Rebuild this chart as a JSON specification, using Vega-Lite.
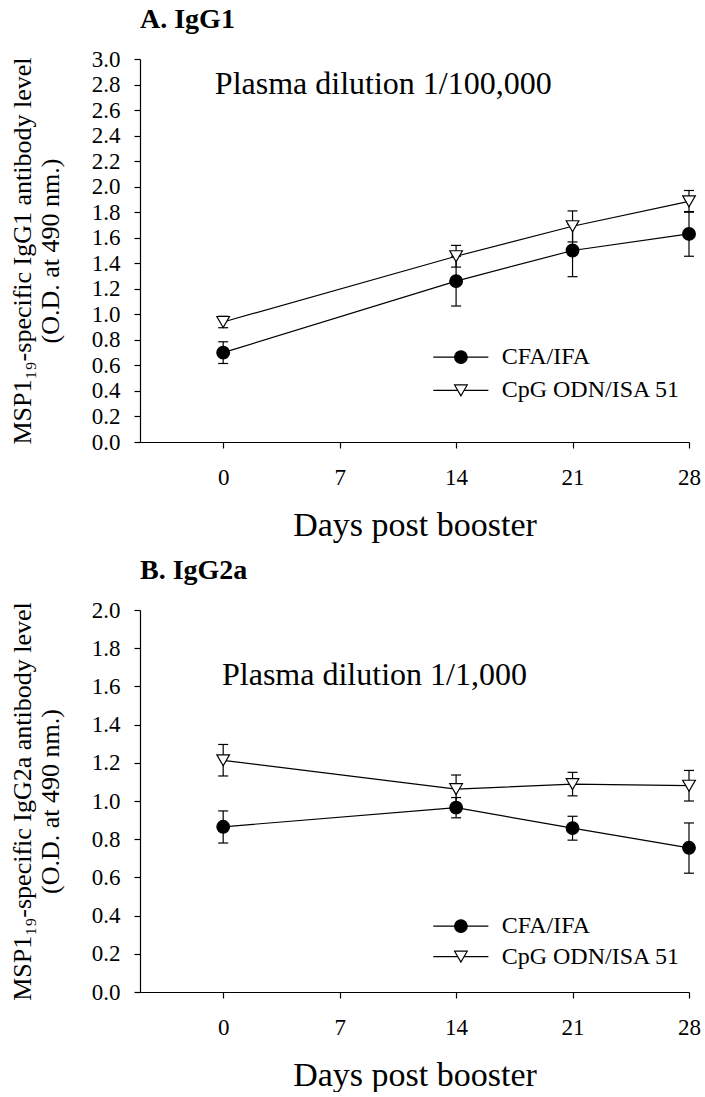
{
  "$schema": "https://vega.github.io/schema/vega-lite/v6.json",
  "background": "white",
  "padding": {"left": 9, "top": 6, "right": 5, "bottom": 0},
  "config": {
    "font": "Liberation Serif",
    "view": {"stroke": null},
    "axis": {
      "grid": false,
      "domainColor": "black",
      "domainWidth": 1.2,
      "tickColor": "black",
      "tickWidth": 1.2,
      "tickSize": 6,
      "labelColor": "black",
      "labelFont": "Liberation Serif",
      "labelFontSize": 23,
      "labelOverlap": false,
      "titleFont": "Liberation Serif",
      "titleColor": "black",
      "titleFontWeight": "normal"
    },
    "axisX": {"labelPadding": 18, "labelAngle": 0, "titleFontSize": 34, "titlePadding": 19},
    "axisY": {"labelPadding": 14, "titleFontSize": 26, "titleLineHeight": 28, "titlePadding": 28},
    "title": {
      "font": "Liberation Serif",
      "fontSize": 28,
      "fontWeight": "bold",
      "color": "black",
      "anchor": "start",
      "frame": "group",
      "baseline": "alphabetic",
      "offset": 14
    }
  },
  "datasets": {
    "od": [
      {"isotype": "IgG1", "series": "CFA/IFA", "day": 0, "mean": 0.70, "lo": 0.615, "hi": 0.785},
      {"isotype": "IgG1", "series": "CFA/IFA", "day": 14, "mean": 1.26, "lo": 1.065, "hi": 1.455},
      {"isotype": "IgG1", "series": "CFA/IFA", "day": 21, "mean": 1.50, "lo": 1.295, "hi": 1.705},
      {"isotype": "IgG1", "series": "CFA/IFA", "day": 28, "mean": 1.63, "lo": 1.455, "hi": 1.805},
      {"isotype": "IgG1", "series": "CpG ODN/ISA 51", "day": 0, "mean": 0.94, "lo": 0.895, "hi": 0.985},
      {"isotype": "IgG1", "series": "CpG ODN/ISA 51", "day": 14, "mean": 1.455, "lo": 1.37, "hi": 1.54},
      {"isotype": "IgG1", "series": "CpG ODN/ISA 51", "day": 21, "mean": 1.69, "lo": 1.567, "hi": 1.81},
      {"isotype": "IgG1", "series": "CpG ODN/ISA 51", "day": 28, "mean": 1.885, "lo": 1.80, "hi": 1.97},
      {"isotype": "IgG2a", "series": "CFA/IFA", "day": 0, "mean": 0.865, "lo": 0.78, "hi": 0.948},
      {"isotype": "IgG2a", "series": "CFA/IFA", "day": 14, "mean": 0.965, "lo": 0.912, "hi": 1.018},
      {"isotype": "IgG2a", "series": "CFA/IFA", "day": 21, "mean": 0.858, "lo": 0.795, "hi": 0.92},
      {"isotype": "IgG2a", "series": "CFA/IFA", "day": 28, "mean": 0.755, "lo": 0.622, "hi": 0.885},
      {"isotype": "IgG2a", "series": "CpG ODN/ISA 51", "day": 0, "mean": 1.213, "lo": 1.131, "hi": 1.296},
      {"isotype": "IgG2a", "series": "CpG ODN/ISA 51", "day": 14, "mean": 1.062, "lo": 0.988, "hi": 1.136},
      {"isotype": "IgG2a", "series": "CpG ODN/ISA 51", "day": 21, "mean": 1.088, "lo": 1.027, "hi": 1.15},
      {"isotype": "IgG2a", "series": "CpG ODN/ISA 51", "day": 28, "mean": 1.08, "lo": 1.0, "hi": 1.16}
    ]
  },
  "spacing": 15,
  "vconcat": [
    {
      "title": "A. IgG1",
      "width": 549,
      "height": 383,
      "layer": [
        {
          "data": {"name": "od"},
          "transform": [{"filter": "datum.isotype === 'IgG1'"}],
          "encoding": {
            "x": {"field": "day", "type": "quantitative", "scale": {"domain": [-5, 28], "nice": false, "zero": false},
                  "axis": {"values": [0, 7, 14, 21, 28], "labelOverlap": false, "labelFlush": false, "title": "Days post booster"}},
            "y": {"field": "mean", "type": "quantitative", "scale": {"domain": [0, 3], "nice": false},
                  "axis": {"values": [0, 0.2, 0.4, 0.6, 0.8, 1.0, 1.2, 1.4, 1.6, 1.8, 2.0, 2.2, 2.4, 2.6, 2.8, 3.0], "format": ".1f", "labelOverlap": false, "labelFlush": false, "title": ["MSP1₁₉-specific IgG1 antibody level", "(O.D. at 490 nm.)"]}}
          },
          "layer": [
            {"mark": {"type": "line", "color": "black", "strokeWidth": 1.2}, "encoding": {"detail": {"field": "series"}}},
            {"mark": {"type": "rule", "color": "black", "strokeWidth": 1.2},
             "encoding": {"y": {"field": "lo", "type": "quantitative", "axis": {"values": [0, 0.2, 0.4, 0.6, 0.8, 1.0, 1.2, 1.4, 1.6, 1.8, 2.0, 2.2, 2.4, 2.6, 2.8, 3.0], "format": ".1f", "labelOverlap": false, "labelFlush": false, "title": ["MSP1₁₉-specific IgG1 antibody level", "(O.D. at 490 nm.)"]}}, "y2": {"field": "hi"}}},
            {"mark": {"type": "tick", "orient": "horizontal", "color": "black", "opacity": 1, "thickness": 1.2, "size": 10},
             "encoding": {"y": {"field": "lo", "type": "quantitative", "axis": {"values": [0, 0.2, 0.4, 0.6, 0.8, 1.0, 1.2, 1.4, 1.6, 1.8, 2.0, 2.2, 2.4, 2.6, 2.8, 3.0], "format": ".1f", "labelOverlap": false, "labelFlush": false, "title": ["MSP1₁₉-specific IgG1 antibody level", "(O.D. at 490 nm.)"]}}}},
            {"mark": {"type": "tick", "orient": "horizontal", "color": "black", "opacity": 1, "thickness": 1.2, "size": 10},
             "encoding": {"y": {"field": "hi", "type": "quantitative", "axis": {"values": [0, 0.2, 0.4, 0.6, 0.8, 1.0, 1.2, 1.4, 1.6, 1.8, 2.0, 2.2, 2.4, 2.6, 2.8, 3.0], "format": ".1f", "labelOverlap": false, "labelFlush": false, "title": ["MSP1₁₉-specific IgG1 antibody level", "(O.D. at 490 nm.)"]}}}},
            {
              "mark": {"type": "point", "filled": true, "opacity": 1, "size": 160, "stroke": "black", "strokeWidth": 1.2},
              "encoding": {
                "fill": {"condition": {"test": "datum.series === 'CFA/IFA'", "value": "black"}, "value": "white"},
                "shape": {"field": "series", "type": "nominal",
                          "scale": {"domain": ["CFA/IFA", "CpG ODN/ISA 51"], "range": ["circle", "triangle-down"]},
                          "legend": null}
              }
            }
          ]
        },
        {
          "data": {"values": [{"note": "Plasma dilution 1/100,000"}]},
          "mark": {"type": "text", "align": "left", "baseline": "alphabetic", "font": "Liberation Serif", "fontSize": 32, "color": "black"},
          "encoding": {
            "x": {"datum": -0.5, "type": "quantitative", "axis": {"values": [0, 7, 14, 21, 28], "labelOverlap": false, "labelFlush": false, "title": "Days post booster"}},
            "y": {"datum": 2.725, "type": "quantitative", "axis": {"values": [0, 0.2, 0.4, 0.6, 0.8, 1.0, 1.2, 1.4, 1.6, 1.8, 2.0, 2.2, 2.4, 2.6, 2.8, 3.0], "format": ".1f", "labelOverlap": false, "labelFlush": false, "title": ["MSP1₁₉-specific IgG1 antibody level", "(O.D. at 490 nm.)"]}},
            "text": {"field": "note"}
          }
        },
        {
          "data": {"values": [{"series": "CFA/IFA"}, {"series": "CpG ODN/ISA 51"}]},
          "encoding": {
            "y": {"datum": 0.665, "type": "quantitative", "axis": {"values": [0, 0.2, 0.4, 0.6, 0.8, 1.0, 1.2, 1.4, 1.6, 1.8, 2.0, 2.2, 2.4, 2.6, 2.8, 3.0], "format": ".1f", "labelOverlap": false, "labelFlush": false, "title": ["MSP1₁₉-specific IgG1 antibody level", "(O.D. at 490 nm.)"]}}
          },
          "transform": [{"filter": "datum.series === 'CFA/IFA'"}],
          "layer": [
            {"mark": {"type": "rule", "color": "black", "strokeWidth": 1.2},
             "encoding": {"x": {"datum": 12.63, "type": "quantitative", "axis": {"values": [0, 7, 14, 21, 28], "labelOverlap": false, "labelFlush": false, "title": "Days post booster"}}, "x2": {"datum": 15.94}}},
            {"mark": {"type": "point", "shape": "circle", "filled": true, "fill": "black", "stroke": "black", "strokeWidth": 1.2, "size": 160, "opacity": 1},
             "encoding": {"x": {"datum": 14.29, "type": "quantitative", "axis": {"values": [0, 7, 14, 21, 28], "labelOverlap": false, "labelFlush": false, "title": "Days post booster"}}}},
            {"mark": {"type": "text", "align": "left", "baseline": "middle", "font": "Liberation Serif", "fontSize": 24, "color": "black"},
             "encoding": {"x": {"datum": 16.74, "type": "quantitative", "axis": {"values": [0, 7, 14, 21, 28], "labelOverlap": false, "labelFlush": false, "title": "Days post booster"}}, "text": {"field": "series"}}}
          ]
        },
        {
          "data": {"values": [{"series": "CFA/IFA"}, {"series": "CpG ODN/ISA 51"}]},
          "encoding": {
            "y": {"datum": 0.404, "type": "quantitative", "axis": {"values": [0, 0.2, 0.4, 0.6, 0.8, 1.0, 1.2, 1.4, 1.6, 1.8, 2.0, 2.2, 2.4, 2.6, 2.8, 3.0], "format": ".1f", "labelOverlap": false, "labelFlush": false, "title": ["MSP1₁₉-specific IgG1 antibody level", "(O.D. at 490 nm.)"]}}
          },
          "transform": [{"filter": "datum.series === 'CpG ODN/ISA 51'"}],
          "layer": [
            {"mark": {"type": "rule", "color": "black", "strokeWidth": 1.2},
             "encoding": {"x": {"datum": 12.63, "type": "quantitative", "axis": {"values": [0, 7, 14, 21, 28], "labelOverlap": false, "labelFlush": false, "title": "Days post booster"}}, "x2": {"datum": 15.94}}},
            {"mark": {"type": "point", "shape": "triangle-down", "filled": true, "fill": "white", "stroke": "black", "strokeWidth": 1.2, "size": 160, "opacity": 1},
             "encoding": {"x": {"datum": 14.29, "type": "quantitative", "axis": {"values": [0, 7, 14, 21, 28], "labelOverlap": false, "labelFlush": false, "title": "Days post booster"}}}},
            {"mark": {"type": "text", "align": "left", "baseline": "middle", "font": "Liberation Serif", "fontSize": 24, "color": "black"},
             "encoding": {"x": {"datum": 16.74, "type": "quantitative", "axis": {"values": [0, 7, 14, 21, 28], "labelOverlap": false, "labelFlush": false, "title": "Days post booster"}}, "text": {"field": "series"}}}
          ]
        }
      ]
    },
    {
      "title": "B. IgG2a",
      "width": 549,
      "height": 382,
      "layer": [
        {
          "data": {"name": "od"},
          "transform": [{"filter": "datum.isotype === 'IgG2a'"}],
          "encoding": {
            "x": {"field": "day", "type": "quantitative", "scale": {"domain": [-5, 28], "nice": false, "zero": false},
                  "axis": {"values": [0, 7, 14, 21, 28], "labelOverlap": false, "labelFlush": false, "title": "Days post booster"}},
            "y": {"field": "mean", "type": "quantitative", "scale": {"domain": [0, 2], "nice": false},
                  "axis": {"values": [0, 0.2, 0.4, 0.6, 0.8, 1.0, 1.2, 1.4, 1.6, 1.8, 2.0], "format": ".1f", "labelOverlap": false, "labelFlush": false, "title": ["MSP1₁₉-specific IgG2a antibody level", "(O.D. at 490 nm.)"]}}
          },
          "layer": [
            {"mark": {"type": "line", "color": "black", "strokeWidth": 1.2}, "encoding": {"detail": {"field": "series"}}},
            {"mark": {"type": "rule", "color": "black", "strokeWidth": 1.2},
             "encoding": {"y": {"field": "lo", "type": "quantitative", "axis": {"values": [0, 0.2, 0.4, 0.6, 0.8, 1.0, 1.2, 1.4, 1.6, 1.8, 2.0], "format": ".1f", "labelOverlap": false, "labelFlush": false, "title": ["MSP1₁₉-specific IgG2a antibody level", "(O.D. at 490 nm.)"]}}, "y2": {"field": "hi"}}},
            {"mark": {"type": "tick", "orient": "horizontal", "color": "black", "opacity": 1, "thickness": 1.2, "size": 10},
             "encoding": {"y": {"field": "lo", "type": "quantitative", "axis": {"values": [0, 0.2, 0.4, 0.6, 0.8, 1.0, 1.2, 1.4, 1.6, 1.8, 2.0], "format": ".1f", "labelOverlap": false, "labelFlush": false, "title": ["MSP1₁₉-specific IgG2a antibody level", "(O.D. at 490 nm.)"]}}}},
            {"mark": {"type": "tick", "orient": "horizontal", "color": "black", "opacity": 1, "thickness": 1.2, "size": 10},
             "encoding": {"y": {"field": "hi", "type": "quantitative", "axis": {"values": [0, 0.2, 0.4, 0.6, 0.8, 1.0, 1.2, 1.4, 1.6, 1.8, 2.0], "format": ".1f", "labelOverlap": false, "labelFlush": false, "title": ["MSP1₁₉-specific IgG2a antibody level", "(O.D. at 490 nm.)"]}}}},
            {
              "mark": {"type": "point", "filled": true, "opacity": 1, "size": 160, "stroke": "black", "strokeWidth": 1.2},
              "encoding": {
                "fill": {"condition": {"test": "datum.series === 'CFA/IFA'", "value": "black"}, "value": "white"},
                "shape": {"field": "series", "type": "nominal",
                          "scale": {"domain": ["CFA/IFA", "CpG ODN/ISA 51"], "range": ["circle", "triangle-down"]},
                          "legend": null}
              }
            }
          ]
        },
        {
          "data": {"values": [{"note": "Plasma dilution 1/1,000"}]},
          "mark": {"type": "text", "align": "left", "baseline": "alphabetic", "font": "Liberation Serif", "fontSize": 32, "color": "black"},
          "encoding": {
            "x": {"datum": -0.07, "type": "quantitative", "axis": {"values": [0, 7, 14, 21, 28], "labelOverlap": false, "labelFlush": false, "title": "Days post booster"}},
            "y": {"datum": 1.608, "type": "quantitative", "axis": {"values": [0, 0.2, 0.4, 0.6, 0.8, 1.0, 1.2, 1.4, 1.6, 1.8, 2.0], "format": ".1f", "labelOverlap": false, "labelFlush": false, "title": ["MSP1₁₉-specific IgG2a antibody level", "(O.D. at 490 nm.)"]}},
            "text": {"field": "note"}
          }
        },
        {
          "data": {"values": [{"series": "CFA/IFA"}, {"series": "CpG ODN/ISA 51"}]},
          "encoding": {
            "y": {"datum": 0.345, "type": "quantitative", "axis": {"values": [0, 0.2, 0.4, 0.6, 0.8, 1.0, 1.2, 1.4, 1.6, 1.8, 2.0], "format": ".1f", "labelOverlap": false, "labelFlush": false, "title": ["MSP1₁₉-specific IgG2a antibody level", "(O.D. at 490 nm.)"]}}
          },
          "transform": [{"filter": "datum.series === 'CFA/IFA'"}],
          "layer": [
            {"mark": {"type": "rule", "color": "black", "strokeWidth": 1.2},
             "encoding": {"x": {"datum": 12.63, "type": "quantitative", "axis": {"values": [0, 7, 14, 21, 28], "labelOverlap": false, "labelFlush": false, "title": "Days post booster"}}, "x2": {"datum": 15.94}}},
            {"mark": {"type": "point", "shape": "circle", "filled": true, "fill": "black", "stroke": "black", "strokeWidth": 1.2, "size": 160, "opacity": 1},
             "encoding": {"x": {"datum": 14.29, "type": "quantitative", "axis": {"values": [0, 7, 14, 21, 28], "labelOverlap": false, "labelFlush": false, "title": "Days post booster"}}}},
            {"mark": {"type": "text", "align": "left", "baseline": "middle", "font": "Liberation Serif", "fontSize": 24, "color": "black"},
             "encoding": {"x": {"datum": 16.74, "type": "quantitative", "axis": {"values": [0, 7, 14, 21, 28], "labelOverlap": false, "labelFlush": false, "title": "Days post booster"}}, "text": {"field": "series"}}}
          ]
        },
        {
          "data": {"values": [{"series": "CFA/IFA"}, {"series": "CpG ODN/ISA 51"}]},
          "encoding": {
            "y": {"datum": 0.185, "type": "quantitative", "axis": {"values": [0, 0.2, 0.4, 0.6, 0.8, 1.0, 1.2, 1.4, 1.6, 1.8, 2.0], "format": ".1f", "labelOverlap": false, "labelFlush": false, "title": ["MSP1₁₉-specific IgG2a antibody level", "(O.D. at 490 nm.)"]}}
          },
          "transform": [{"filter": "datum.series === 'CpG ODN/ISA 51'"}],
          "layer": [
            {"mark": {"type": "rule", "color": "black", "strokeWidth": 1.2},
             "encoding": {"x": {"datum": 12.63, "type": "quantitative", "axis": {"values": [0, 7, 14, 21, 28], "labelOverlap": false, "labelFlush": false, "title": "Days post booster"}}, "x2": {"datum": 15.94}}},
            {"mark": {"type": "point", "shape": "triangle-down", "filled": true, "fill": "white", "stroke": "black", "strokeWidth": 1.2, "size": 160, "opacity": 1},
             "encoding": {"x": {"datum": 14.29, "type": "quantitative", "axis": {"values": [0, 7, 14, 21, 28], "labelOverlap": false, "labelFlush": false, "title": "Days post booster"}}}},
            {"mark": {"type": "text", "align": "left", "baseline": "middle", "font": "Liberation Serif", "fontSize": 24, "color": "black"},
             "encoding": {"x": {"datum": 16.74, "type": "quantitative", "axis": {"values": [0, 7, 14, 21, 28], "labelOverlap": false, "labelFlush": false, "title": "Days post booster"}}, "text": {"field": "series"}}}
          ]
        }
      ]
    }
  ],
  "resolve": {
    "scale": {"x": "independent", "y": "independent", "shape": "independent"}
  }
}
